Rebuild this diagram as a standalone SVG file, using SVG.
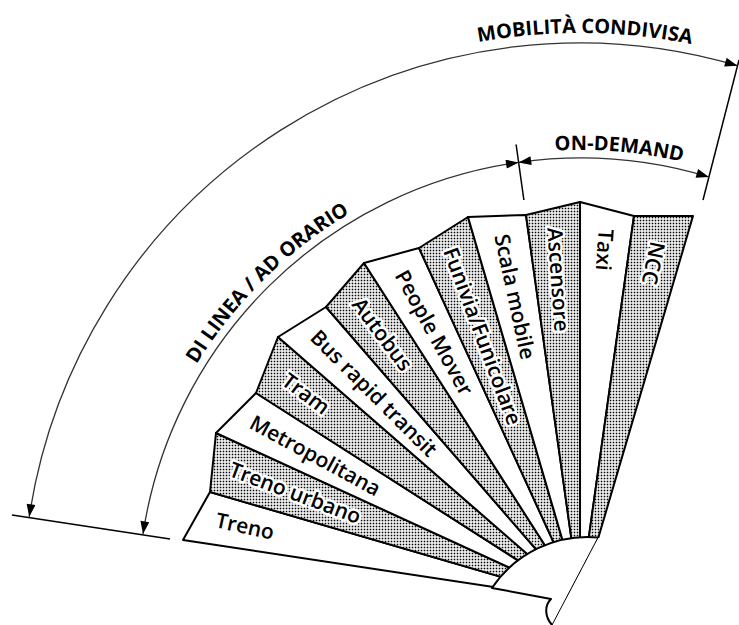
<svg xmlns="http://www.w3.org/2000/svg" xmlns:xlink="http://www.w3.org/1999/xlink" width="739" height="625" viewBox="0 0 739 625">
<style>
.blade{stroke:#000;stroke-width:2;stroke-linejoin:round}
.w{fill:#fff}
.d{fill:url(#dots)}
.lbl{font-family:"Open Sans","Liberation Sans",sans-serif;font-size:21px;font-weight:600;fill:#000;text-anchor:middle;stroke:#fff;stroke-width:5;stroke-linejoin:round;paint-order:stroke}
.hd{font-family:"Open Sans","Liberation Sans",sans-serif;font-size:20px;font-weight:bold;fill:#000;text-anchor:middle}
.arc{fill:none;stroke:#333;stroke-width:1.3;marker-start:url(#arr);marker-end:url(#arr)}
.ext{fill:none;stroke:#000;stroke-width:1.5}
</style>
<defs>
<pattern id="dots" patternUnits="userSpaceOnUse" width="3" height="3">
<rect width="3" height="3" fill="#fff"/>
<rect x="0.7" y="0.7" width="1.6" height="1.6" fill="#000"/>
</pattern>
<marker id="arr" viewBox="0 0 14 10" refX="14" refY="5" markerWidth="14" markerHeight="9" markerUnits="userSpaceOnUse" orient="auto-start-reverse">
<path d="M0,0 L14,5 L0,10 Z" fill="#000"/>
</marker>
<path id="tp1" d="M145.3,483.5 A450,450 0 0 1 805,210.3" fill="none"/>
<path id="tp2" d="M32.3,453.2 A567,567 0 0 1 1014.3,235.5" fill="none"/>
</defs>
<rect width="739" height="625" fill="#fff"/>

<g id="treno"><polygon class="blade w" points="183,540 210,492 580,600"/><text class="lbl" transform="translate(244.9,526.6) rotate(12.36)" dy="7">Treno</text></g>
<g id="treno-urbano"><polygon class="blade d" points="210,492 216,433 580,600"/><text class="lbl" transform="translate(295.1,493.3) rotate(20.54)" dy="7">Treno urbano</text></g>
<g id="metropolitana"><polygon class="blade w" points="216,433 256,393 580,600"/><text class="lbl" transform="translate(315.1,456) rotate(28.53)" dy="7">Metropolitana</text></g>
<g id="tram"><polygon class="blade d" points="256,393 278,337 580,600"/><text class="lbl" transform="translate(305.7,394.1) rotate(36.9)" dy="7">Tram</text></g>
<g id="brt"><polygon class="blade w" points="278,337 326,307 580,600"/><text class="lbl" transform="translate(373.6,393.6) rotate(45)" dy="7">Bus rapid transit</text></g>
<g id="autobus"><polygon class="blade d" points="326,307 364,263 580,600"/><text class="lbl" transform="translate(382,334.5) rotate(53.28)" dy="7">Autobus</text></g>
<g id="people-mover"><polygon class="blade w" points="364,263 419,248 580,600"/><text class="lbl" transform="translate(433.8,332.9) rotate(61.31)" dy="7">People Mover</text></g>
<g id="funivia"><polygon class="blade d" points="419,248 468,217 580,600"/><text class="lbl" transform="translate(482.1,336.4) rotate(69.62)" dy="7">Funivia/Funicolare</text></g>
<g id="scala-mobile"><polygon class="blade w" points="468,217 526,215 580,600"/><text class="lbl" transform="translate(514.5,296.8) rotate(77.8)" dy="7">Scala mobile</text></g>
<g id="ascensore"><polygon class="blade d" points="526,215 580,202 580,600"/><text class="lbl" transform="translate(557.9,279.6) rotate(86.05)" dy="7">Ascensore</text></g>
<g id="taxi"><polygon class="blade w" points="580,202 634,216 580,600"/><text class="lbl" transform="translate(604.2,249.9) rotate(93.95)" dy="7">Taxi</text></g>
<g id="ncc"><polygon class="blade d" points="634,216 693,216 580,600"/><text class="lbl" transform="translate(653,263) rotate(102.26)" dy="7">NCC</text></g>

<g id="hub">
<path d="M598,538 L739,538 L739,625 L552,625 Z" fill="#fff"/>
<path d="M492,588 A115,115 0 0 1 598,537.5 L552,625 C545,617 544,606 551,599 Z" fill="#fff"/>
<path d="M598,537.5 A115,115 0 0 0 492,588 L551,599 C544,606 545,617 552,625" fill="none" stroke="#000" stroke-width="2" stroke-linejoin="round"/>
<path d="M598,537.5 L552,625" fill="none" stroke="#000" stroke-width="1"/>
</g>

<g id="connectors">
<path class="ext" d="M12,515 L170,539"/>
<path class="ext" d="M703,200 L739,60"/>
<path class="ext" d="M516.1,144.5 L523.9,200"/>
<path class="arc" d="M29.2,516.8 A557,557 0 0 1 737.5,65.7"/>
<path class="arc" d="M143,534 A442,442 0 0 1 518.6,162.4"/>
<path class="arc" d="M518.6,162.4 A442,442 0 0 1 708.9,177"/>
</g>

<g id="labels">
<text class="hd"><textPath href="#tp2" xlink:href="#tp2" startOffset="747">MOBILITÀ CONDIVISA</textPath></text>
<text class="hd"><textPath href="#tp1" xlink:href="#tp1" startOffset="238.8">DI LINEA / AD ORARIO</textPath></text>
<text class="hd"><textPath href="#tp1" xlink:href="#tp1" startOffset="628">ON-DEMAND</textPath></text>
</g>
</svg>
